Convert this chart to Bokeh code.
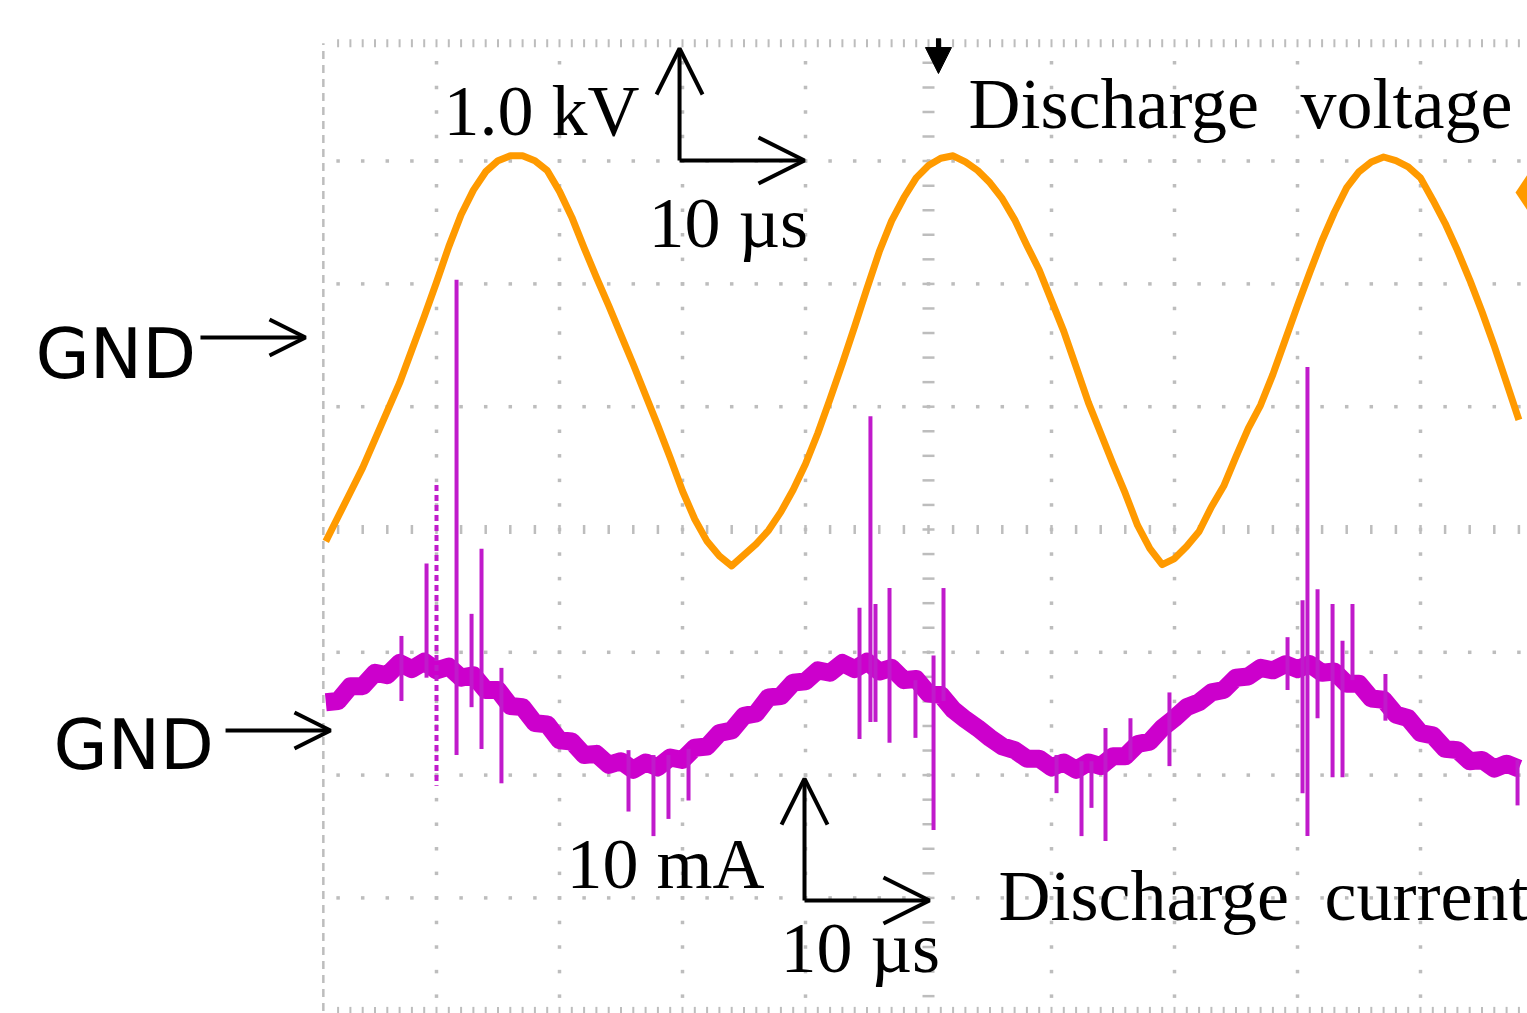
import numpy as np
from bokeh.plotting import figure
from bokeh.models import Range1d, Arrow, OpenHead, NormalHead
from bokeh.core.properties import value
from bokeh.embed import file_html
from bokeh.resources import INLINE

# ---------------- data ----------------
# time in microseconds (0 = trigger / centre graticule line), 10 us per division
volt_t = list(range(-49, 49))
# discharge voltage, kV (1.0 kV per division)
volt_kV = [-1.66, -1.46, -1.26, -1.06, -0.83, -0.60, -0.37, -0.10, 0.17, 0.45, 0.74, 1.00,
           1.20, 1.35, 1.44, 1.48, 1.48, 1.44, 1.36, 1.19, 0.98, 0.73, 0.49, 0.26, 0.02,
           -0.22, -0.47, -0.72, -0.98, -1.25, -1.48, -1.66, -1.78, -1.86, -1.77, -1.68,
           -1.57, -1.42, -1.24, -1.03, -0.78, -0.50, -0.21, 0.09, 0.40, 0.70, 0.95, 1.14,
           1.30, 1.40, 1.46, 1.48, 1.43, 1.36, 1.26, 1.13, 0.96, 0.75, 0.55, 0.30, 0.05,
           -0.24, -0.53, -0.78, -1.03, -1.27, -1.53, -1.72, -1.85, -1.80, -1.70, -1.58,
           -1.38, -1.21, -0.97, -0.74, -0.55, -0.30, -0.02, 0.26, 0.53, 0.79, 1.02, 1.22,
           1.35, 1.43, 1.47, 1.44, 1.39, 1.30, 1.12, 0.93, 0.71, 0.47, 0.21, -0.07, -0.37,
           -0.67]

# discharge current (noisy displacement-current band), mA (10 mA per division)
curr_t = list(range(-49, 49))
curr_mA = [2.3, 2.4, 3.6, 3.6, 4.7, 4.5, 5.5, 5.0, 5.6, 4.9, 5.2, 4.3, 4.5, 3.3, 3.3, 2.0,
           1.9, 0.6, 0.5, -0.8, -0.9, -2.0, -1.9, -2.8, -2.5, -3.2, -2.6, -3.0, -2.2, -2.4,
           -1.4, -1.3, -0.2, 0.0, 1.2, 1.4, 2.7, 2.8, 3.9, 4.0, 4.9, 4.7, 5.5, 5.0, 5.6, 4.8,
           5.1, 4.1, 4.2, 3.0, 2.9, 1.7, 0.9, 0.2, -0.6, -1.3, -1.6, -2.3, -2.3, -3.0, -2.6,
           -3.2, -2.6, -2.9, -2.1, -2.1, -1.1, -0.9, 0.2, 1.0, 1.9, 2.3, 3.1, 3.3, 4.3, 4.4,
           5.1, 4.9, 5.4, 5.0, 5.4, 4.7, 4.8, 3.8, 3.8, 2.6, 2.5, 1.3, 1.0, -0.2, -0.4, -1.5,
           -1.6, -2.5, -2.4, -3.1, -2.7, -3.1]

# current pulses (micro-discharges): time, top and bottom of each spike, mA
spike_t = [-42.85, -40.81, -38.37, -37.15, -36.34, -34.72, -24.39, -22.36, -21.14, -19.51,
           -5.61, -4.72, -4.31, -3.17, -1.06, 0.41, 1.22, 10.41, 12.44, 13.25, 14.39, 16.42,
           19.59, 29.19, 30.41, 30.81, 31.63, 32.85, 33.66, 34.47, 37.15, 47.89]
spike_top = [7.7, 13.6, 36.7, 9.5, 14.8, 5.1, -1.6, -2.0, -2.0, -1.5, 10.0, 25.6, 10.3, 11.6,
             4.1, 6.1, 11.6, -2.0, -2.5, -2.5, 0.2, 1.0, 3.1, 7.6, 10.6, 29.6, 11.5, 10.3,
             7.3, 10.3, 4.6, -2.4]
spike_bot = [2.4, 4.3, -2.0, 1.9, -1.5, -4.3, -6.6, -8.6, -7.2, -5.7, -0.7, 0.7, 0.7, -1.0,
             -0.6, -8.1, 2.4, -5.1, -8.6, -6.3, -9.0, -2.4, -2.9, 3.3, -5.1, -8.6, 1.0, -3.8,
             -3.8, 4.1, 0.8, -6.1]
# one pulse drawn dashed on the scope
dspike_t = [-40.0]
dspike_top = [20.0]
dspike_bot = [-4.5]

# ---------------- layout ----------------
W, H = 1527, 1013
PX_US = 12.3          # px per microsecond
PX_DIV = 122.8        # px per vertical division
XC, YC = 928, 529     # centre graticule in figure pixels
x0 = (0 - XC) / PX_US
x1 = (W - XC) / PX_US
y0 = (YC - H) / PX_DIV
y1 = (YC - 0) / PX_DIV

V_GND_DIV, V_PER_DIV = 1.5635, 1.0
I_GND_DIV, I_PER_DIV = -1.6368, 10.0

p = figure(width=W, height=H, x_range=Range1d(x0, x1), y_range=Range1d(y0, y1),
           output_backend="svg", toolbar_location=None, min_border=0,
           x_axis_type=None, y_axis_type=None, outline_line_color=None,
           background_fill_color="white", border_fill_color="white")
p.extra_y_ranges = {
    "volt": Range1d((y0 - V_GND_DIV) * V_PER_DIV, (y1 - V_GND_DIV) * V_PER_DIV),
    "curr": Range1d((y0 - I_GND_DIV) * I_PER_DIV, (y1 - I_GND_DIV) * I_PER_DIV),
}

# ---------------- graticule ----------------
GRID = "#bdbdbd"
cols = [c for c in range(-40, 41, 10) if c != 0]
rows = [r for r in range(-3, 4) if r != 0]
row_dot_t = np.arange(-48, 48.01, 2.0)
col_dot_y = np.arange(-3.8, 3.81, 0.2)
gx, gy = [], []
for r in rows:
    gx += list(row_dot_t); gy += [r] * len(row_dot_t)
for c in cols:
    gx += [c] * len(col_dot_y); gy += list(col_dot_y)
p.scatter(gx, gy, marker="square", size=3.5, fill_color=GRID, line_color=None)
# centre lines with minor ticks
p.scatter([0] * len(col_dot_y), list(col_dot_y), marker="dash", size=12, line_width=2.5,
          line_color=GRID)
p.scatter(list(row_dot_t), [0] * len(row_dot_t), marker="dash", angle=np.pi / 2, size=9,
          line_width=2.5, line_color=GRID)
# top / bottom border ticks
for yb in (3.96, -3.92):
    tt = np.arange(-48, 48.01, 1.0)
    p.scatter(list(tt), [yb] * len(tt), marker="dash", angle=np.pi / 2, size=8,
              line_width=2, line_color=GRID)
# left border
p.line([-49.2, -49.2], [-3.92, 3.96], line_color=GRID, line_width=2.5, line_dash="8 6")

# ---------------- traces ----------------
MAG = "#CC00CC"
p.line(curr_t, curr_mA, y_range_name="curr", line_color=MAG, line_width=18,
       line_join="round")
p.segment(x0=spike_t, y0=spike_top, x1=spike_t, y1=spike_bot, y_range_name="curr",
          line_color="#C01ACB", line_width=4)
p.segment(x0=dspike_t, y0=dspike_top, x1=dspike_t, y1=dspike_bot, y_range_name="curr",
          line_color="#C01ACB", line_width=4, line_dash="6 4")
p.line(volt_t, volt_kV, y_range_name="volt", line_color="#FF9A00", line_width=7,
       line_join="round")
# channel level marker at right edge
p.scatter([48.7], [2.744], marker="diamond", size=36, fill_color="#FF9A00",
          line_color=None)

# ---------------- annotations ----------------
SERIF = value("Liberation Serif")
SANS = value("DejaVu Sans")
p.text(x=[-39.43, -22.76, 3.25, 30.24, -29.43, -12.03, 5.69, 32.20],
       y=[3.412, 2.492, 3.469, 3.469, -2.720, -3.412, -2.988, -2.988],
       text=["1.0 kV", "10 µs", "Discharge", "voltage", "10 mA", "10 µs", "Discharge",
             "current"],
       text_font=SERIF, text_font_size="72px", text_color="black",
       text_baseline="alphabetic", text_align="left")
p.text(x=[-72.6, -71.14], y=[1.428, -1.756], text=["GND", "GND"], text_font=SANS,
       text_font_size="70px", text_color="black", text_baseline="alphabetic",
       text_align="left")

def arrow(xs, ys, xe, ye, size=40, rng="default", width=4):
    p.add_layout(Arrow(end=OpenHead(size=size, line_width=width, line_color="black"),
                       x_start=xs, y_start=ys, x_end=xe, y_end=ye,
                       line_width=width, line_color="black", y_range_name=rng))

# GND markers
arrow(-59.19, 0, -50.65, 0, size=36, rng="volt")
arrow(-57.15, 0, -48.62, 0, size=36, rng="curr")
# scale indicators
arrow(-20.24, 3.005, -20.24, 3.917, size=46)
arrow(-20.24, 3.005, -10.08, 3.005, size=46)
arrow(-10.08, -3.021, -10.08, -2.028, size=46)
arrow(-10.08, -3.021, 0.08, -3.021, size=46)
# trigger marker
p.add_layout(Arrow(end=NormalHead(size=26, fill_color="black", line_color="black"),
                   x_start=0.81, y_start=4.0, x_end=0.81, y_end=3.713,
                   line_width=5, line_color="black"))

open("out.html", "w").write(file_html(p, INLINE))
